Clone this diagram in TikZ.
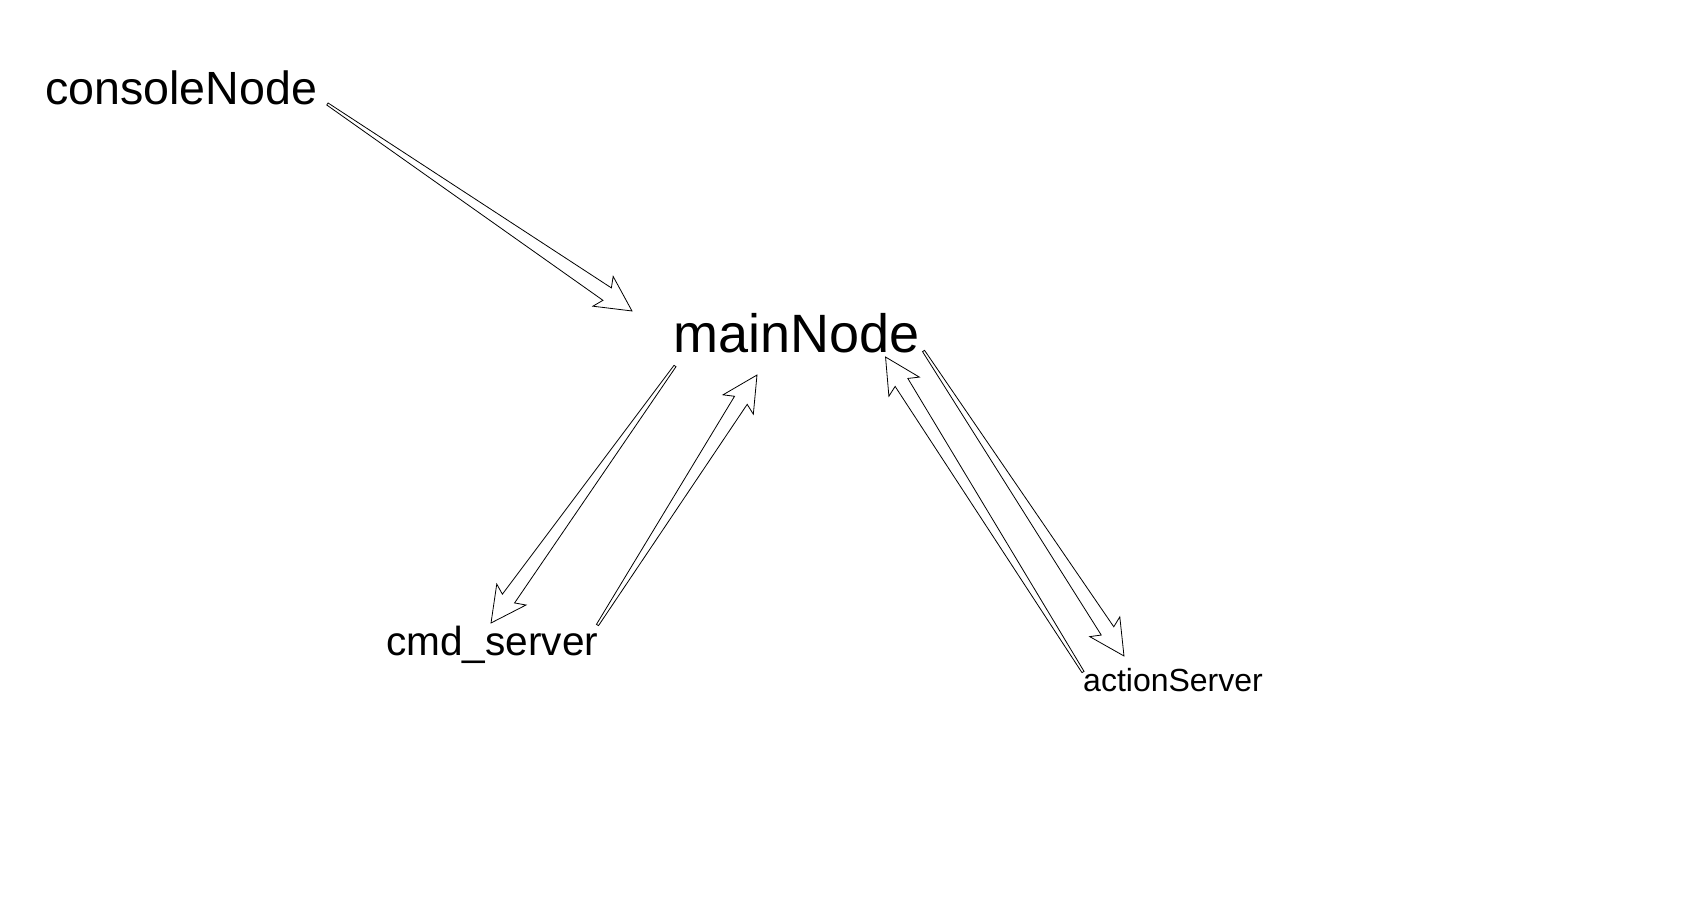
\documentclass[tikz,border=0pt]{standalone}
\usepackage{fontspec}
\setmainfont{Liberation Sans}
\usepackage{tikz}
\usetikzlibrary{calc,positioning}
\newcommand\fatarrow[2]{%
  \draw[arrowline] let \p1=($(#2)-(#1)$), \n1={atan2(\y1,\x1)}, \n2={veclen(\x1,\y1)} in
    {[shift={(#1)}, rotate=\n1]
    (0,1.2) -- (\n2-30,7.5) -- (\n2-35,18) -- (\n2,0) -- (\n2-35,-18) -- (\n2-30,-7.5) -- (0,-1.2) -- cycle};}

\begin{document}
\begin{tikzpicture}[
	x=1pt, y=-1pt,
	nodename/.style={inner sep=0, anchor=base west},
	arrowline/.style={draw=black, fill=white, line width=0.8pt, line join=miter}
	]
	  \useasboundingbox (0,0) rectangle (1695,899);
	  \node[nodename, font=\fontsize{46.6}{56}\selectfont] (console) at (45,104) {consoleNode};
	  \node[nodename, font=\fontsize{54}{65}\selectfont] (main) at (673,352) {mainNode};
	  \node[nodename, font=\fontsize{40.6}{49}\selectfont] (cmd) at (386,655) {cmd\_server};
	  \node[nodename, font=\fontsize{32}{38}\selectfont] (action) at (1083,691) {actionServer};
	  % arrow ends
	  \coordinate (consoleOut) at ($(console.base east)+(10,0)$);
	  \coordinate (mainIn) at ($(main.base west)+(-41,-41)$);
	  \coordinate (mainToCmd) at ($(main.base west)+(2,14)$);
	  \coordinate (cmdIn) at ($(cmd.base west)+(105,-32)$);
	  \coordinate (cmdOut) at ($(cmd.base east)+(-1,-30)$);
	  \coordinate (mainFromCmd) at ($(main.base west)+(84,23)$);
	  \coordinate (mainToAction) at ($(main.base east)+(4,-1)$);
	  \coordinate (actionIn) at ($(action.base west)+(41,-35)$);
	  \coordinate (actionOut) at ($(action.base west)+(0,-19)$);
	  \coordinate (mainFromAction) at ($(main.base east)+(-34,5)$);
	  \fatarrow{consoleOut}{mainIn}
	  \fatarrow{mainToCmd}{cmdIn}
	  \fatarrow{cmdOut}{mainFromCmd}
	  \fatarrow{mainToAction}{actionIn}
	  \fatarrow{actionOut}{mainFromAction}
\end{tikzpicture}
\end{document}
